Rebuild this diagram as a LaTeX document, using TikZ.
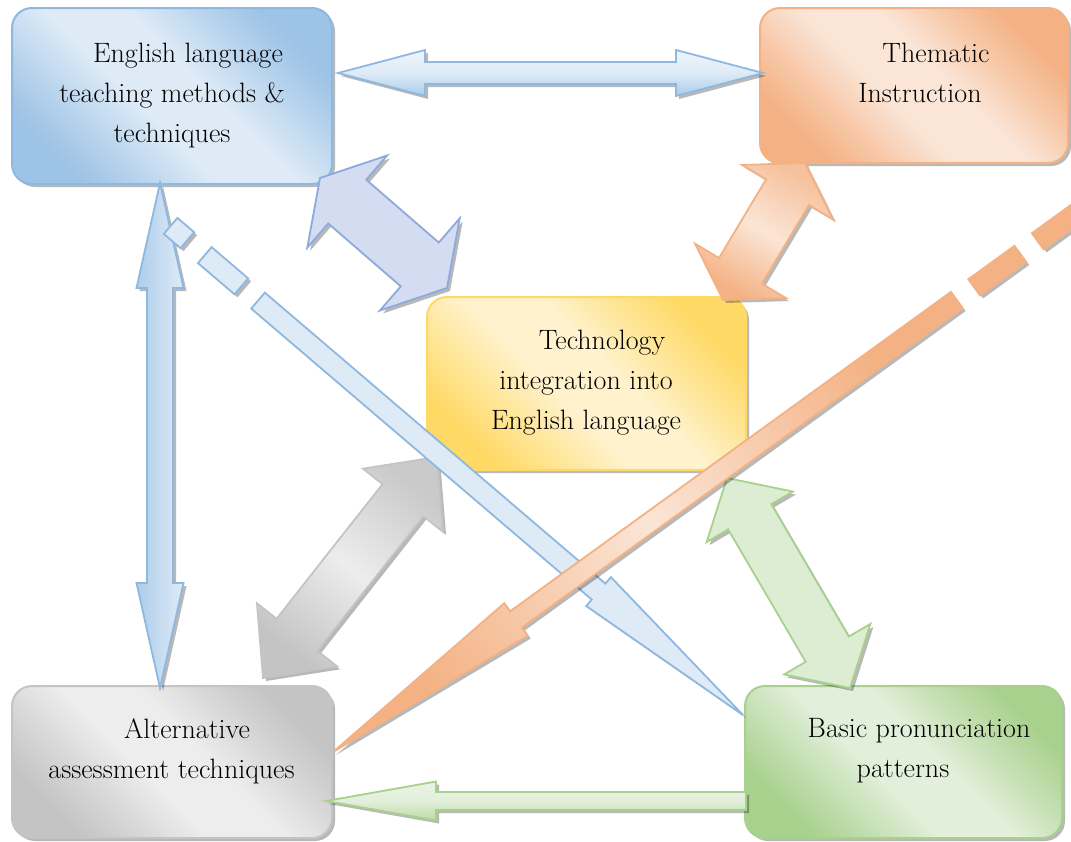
\documentclass[tikz,border=0pt]{standalone}
\usetikzlibrary{calc,shadows}
\definecolor{bluedark}{HTML}{9DC3E6}
\definecolor{bluelight}{HTML}{DEEBF7}
\definecolor{blueline}{HTML}{8FB8E0}
\definecolor{ordark}{HTML}{F4B183}
\definecolor{orlight}{HTML}{FBE5D6}
\definecolor{yedark}{HTML}{FFD966}
\definecolor{yelight}{HTML}{FFF2CC}
\definecolor{grdark}{HTML}{C4C4C4}
\definecolor{grlight}{HTML}{EDEDED}
\definecolor{gndark}{HTML}{A9D18E}
\definecolor{gnlight}{HTML}{E2EFDA}
\definecolor{pudark}{HTML}{8EAADB}
\definecolor{pufill}{HTML}{D3DCF1}
\newcommand\boxshade[3]{\pgfdeclareverticalshading{#1}{100bp}{%
  color(0bp)=(#2); color(25bp)=(#2); color(35bp)=(#2!50!#3); color(44bp)=(#3);
  color(56bp)=(#3); color(65bp)=(#2!50!#3); color(75bp)=(#2); color(100bp)=(#2)}}
\boxshade{shblue}{bluedark}{bluelight}
\boxshade{shor}{ordark}{orlight}
\boxshade{shye}{yedark}{yelight}
\boxshade{shgr}{grdark}{grlight}
\boxshade{shgn}{gndark}{gnlight}
\newcommand\dblarrow[6]{%
  \coordinate (hA) at ($(#1)!#5!(#2)$);
  \coordinate (hB) at ($(#2)!#5!(#1)$);
  \path[#6] (#1) -- ($(hA)!#4!90:(#2)$) -- ($(hA)!#3!90:(#2)$)
    -- ($(hB)!#3!-90:(#1)$) -- ($(hB)!#4!-90:(#1)$) -- (#2)
    -- ($(hB)!#4!90:(#1)$) -- ($(hB)!#3!90:(#1)$)
    -- ($(hA)!#3!-90:(#2)$) -- ($(hA)!#4!-90:(#2)$) -- cycle;}
\newcommand\sglarrow[6]{%
  \coordinate (hB) at ($(#2)!#5!(#1)$);
  \path[#6] ($(#1)!#3!-90:(#2)$) -- ($(hB)!#3!90:(#1)$) -- ($(hB)!#4!90:(#1)$)
    -- (#2) -- ($(hB)!#4!-90:(#1)$) -- ($(hB)!#3!-90:(#1)$)
    -- ($(#1)!#3!90:(#2)$) -- cycle;}
\newcommand\dashpiece[6]{%
  \coordinate (pa) at ($(#1)!#3!(#2)$);
  \coordinate (pb) at ($(#1)!#4!(#2)$);
  \path[#6] ($(pa)!#5!90:(#2)$) -- ($(pb)!#5!90:(#2)$)
    -- ($(pb)!#5!-90:(#2)$) -- ($(pa)!#5!-90:(#2)$) -- cycle;}
\tikzset{
  shd/.style={drop shadow={shadow xshift=3pt,shadow yshift=-3pt,fill=black,opacity=0.28}},
  box/.style n args={2}{rounded corners=20pt, line width=2pt, inner sep=0pt, shd,
     draw=#1, shading=#2, shading angle=-45},
  txt/.style={align=center, inner sep=0pt, font=\fontsize{28}{40}\selectfont},
  blkline/.style={line width=1.8pt, line join=miter, shd},
}
\begin{document}
\begin{tikzpicture}[x=1pt,y=-1pt]
\useasboundingbox (0,0) rectangle (1071,841);
\clip (0,0) rectangle (1071,841);
% boxes
\node[box={blueline}{shblue}, minimum width=320pt, minimum height=176pt] (teach) at (172,96) {};
\node[box={ordark}{shor}, minimum width=308pt, minimum height=155pt] (them) at (914,85.5) {};
\node[box={yedark}{shye}, minimum width=319pt, minimum height=173pt] (tech) at (586.5,383.5) {};
\node[box={grdark}{shgr}, minimum width=320pt, minimum height=152pt] (alt) at (172,762) {};
\node[box={gndark}{shgn}, minimum width=317pt, minimum height=152pt] (pron) at (903.5,762) {};
% texts
\node[txt] (teachT) at (172,96) {\hspace*{32pt}English language\\teaching methods \&\\techniques};
\node[txt] (themT) at (920,73) {\hspace*{32pt}Thematic\\Instruction};
\node[txt] (techT) at (586,383) {\hspace*{32pt}Technology\\integration into\\English language};
\node[txt] (altT) at (171.5,751) {\hspace*{31pt}Alternative\\assessment techniques};
\node[txt] (pronT) at (903,751) {\hspace*{32pt}Basic pronunciation\\patterns};
% connector end points
\coordinate (v1) at (160,183);   \coordinate (v2) at (160,688);
\coordinate (h1) at (338,73);    \coordinate (h2) at (763,73);
\coordinate (p1) at (320,178);   \coordinate (p2) at (447,288);
\coordinate (o1) at (805,163);   \coordinate (o2) at (723,300);
\coordinate (g1) at (437,457);   \coordinate (g2) at (263,678);
\coordinate (n1) at (727,478);   \coordinate (n2) at (850,688);
\coordinate (s1) at (746,801);   \coordinate (s2) at (326,801);
\coordinate (bT) at (170.6,225.9); \coordinate (bH) at (743,715);
\coordinate (oT) at (1086.3,206.1); \coordinate (oH) at (333,752);
\coordinate (bS) at ($(bT)!115pt!(bH)$);
\coordinate (oS) at ($(oT)!160pt!(oH)$);
% block arrows
\dblarrow{v1}{v2}{13pt}{23.5pt}{105pt}{blkline, draw=blueline, left color=bluedark!75!bluelight, right color=bluelight}
\dblarrow{h1}{h2}{11pt}{23pt}{87pt}{blkline, draw=blueline, top color=bluelight!50!white, bottom color=bluedark!80!bluelight, middle color=bluelight}
\dblarrow{p1}{p2}{29pt}{61pt}{36pt}{blkline, draw=pudark, fill=pufill}
\dblarrow{o1}{o2}{25pt}{53pt}{34pt}{blkline, draw=ordark, top color=ordark!70!orlight, bottom color=ordark, middle color=orlight, shading angle=-30}
\dblarrow{g1}{g2}{26pt}{51pt}{55pt}{blkline, draw=grdark, top color=grdark!85!grlight, bottom color=grdark, middle color=grlight, shading angle=-38}
\dblarrow{n1}{n2}{25pt}{50pt}{45pt}{blkline, draw=gndark, fill=gnlight!92!gndark}
\sglarrow{s1}{s2}{9pt}{19.5pt}{110pt}{blkline, draw=gndark, top color=gnlight!70!white, bottom color=gndark!70!gnlight, middle color=gnlight}
% long blue arrow with broken tail
\dashpiece{bT}{bH}{0pt}{22pt}{10.5pt}{blkline, draw=blueline, fill=bluelight}
\dashpiece{bT}{bH}{45pt}{93pt}{10.5pt}{blkline, draw=blueline, fill=bluelight}
\sglarrow{bS}{bH}{10.5pt}{19pt}{190pt}{blkline, draw=blueline, fill=bluelight}
% long orange arrow with broken tail
\dashpiece{oT}{oH}{3pt}{60pt}{10pt}{blkline, draw=ordark, fill=ordark}
\dashpiece{oT}{oH}{81.5pt}{138.5pt}{10pt}{blkline, draw=ordark, fill=ordark}
\sglarrow{oS}{oH}{10pt}{20pt}{226pt}{blkline, draw=ordark, top color=ordark, bottom color=ordark, middle color=orlight, shading angle=-54}
\end{tikzpicture}
\end{document}
